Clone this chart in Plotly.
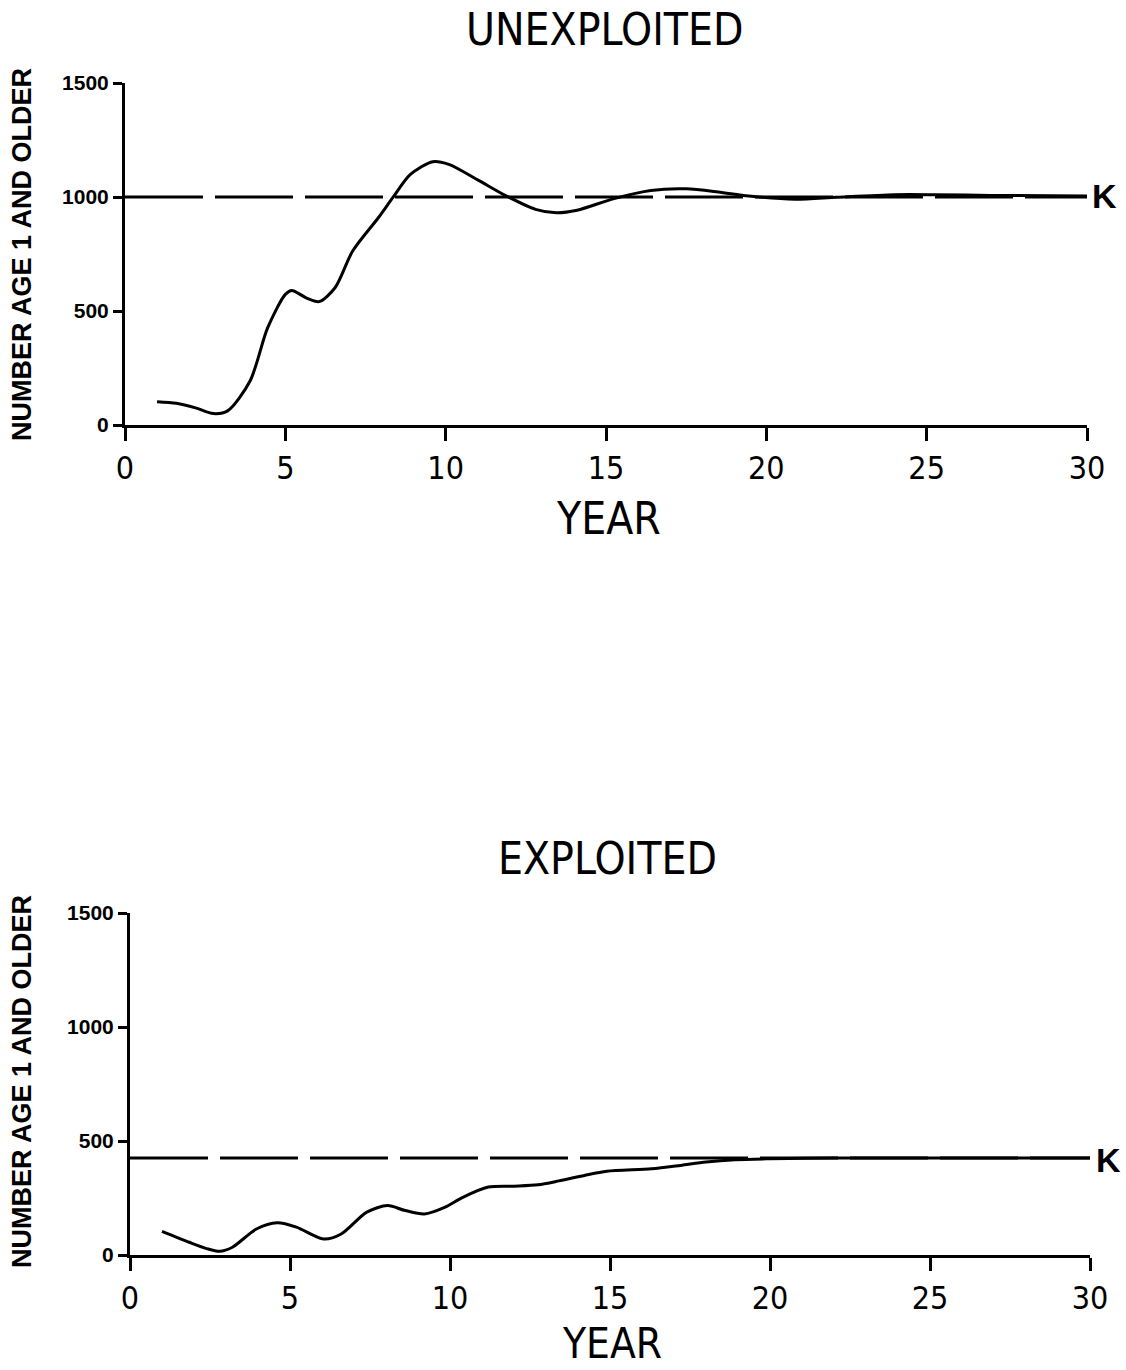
import plotly.graph_objects as go

# ---- data ----
years_unexploited = [1.0, 1.6, 2.2, 2.75, 3.2, 3.9, 4.45, 5.0, 5.2, 5.65, 6.05, 6.55, 7.1, 7.9,
                     8.35, 8.9, 9.6, 10.1, 11.0, 11.9, 12.8, 13.45, 14.1, 15.25, 16.4, 17.5,
                     18.5, 19.45, 20.9, 22.2, 24.0, 25.2, 27.0, 30.0]
number_unexploited = [102, 95, 75, 50, 62, 193, 427, 573, 590, 558, 541, 602, 763, 909,
                      997, 1099, 1155, 1143, 1075, 1004, 946, 931, 942, 993, 1029, 1036,
                      1022, 1004, 990, 999, 1010, 1010, 1007, 1004]

years_exploited = [1.0, 1.85, 2.4, 2.8, 3.2, 3.95, 4.6, 5.2, 6.05, 6.6, 7.4, 8.05, 8.6, 9.2,
                   9.85, 10.4, 11.2, 12.0, 12.75, 13.4, 14.2, 14.9, 16.3, 17.2, 18.0, 18.9,
                   20.0, 22.0, 25.0, 30.0]
number_exploited = [104, 56, 28, 16, 34, 114, 141, 122, 70, 92, 188, 217, 195, 180,
                    210, 253, 298, 302, 308, 325, 349, 367, 378, 393, 408, 418,
                    422, 425, 425, 425]

K_unexploited = 1000
K_exploited = 425
k_years = [0, 30]

x_ticks = [0, 5, 10, 15, 20, 25, 30]
y_ticks = [0, 500, 1000, 1500]
panel_titles = ["UNEXPLOITED", "EXPLOITED"]
x_title = "YEAR"
y_title = "NUMBER AGE 1 AND OLDER"
k_label = "K"

W, H = 1126, 1370
NARROW = "Liberation Sans Narrow, DejaVu Sans Condensed, Arial Narrow, sans-serif"
BOLD = "Liberation Sans, Arial, DejaVu Sans, sans-serif"

fig = go.Figure()

line_style = dict(color="black", width=3, shape="spline", smoothing=0.8)
dash_style = dict(color="black", width=3, dash="78px,12px")

fig.add_trace(go.Scatter(x=k_years, y=[K_unexploited] * 2, mode="lines", line=dash_style,
                         xaxis="x", yaxis="y", showlegend=False, hoverinfo="skip"))
fig.add_trace(go.Scatter(x=years_unexploited, y=number_unexploited, mode="lines",
                         line=line_style, xaxis="x", yaxis="y", showlegend=False))
fig.add_trace(go.Scatter(x=k_years, y=[K_exploited] * 2, mode="lines", line=dash_style,
                         xaxis="x2", yaxis="y2", showlegend=False, hoverinfo="skip"))
fig.add_trace(go.Scatter(x=years_exploited, y=number_exploited, mode="lines",
                         line=line_style, xaxis="x2", yaxis="y2", showlegend=False))


def xax(domain, anchor):
    return dict(domain=domain, anchor=anchor, range=[0, 30], tickvals=x_ticks,
                automargin=False, showgrid=False, zeroline=False, showline=True,
                linecolor="black", linewidth=3, ticks="outside", ticklen=13, tickwidth=3,
                tickcolor="black", tickfont=dict(family=NARROW, size=32, color="black"))


def yax(domain, anchor):
    return dict(domain=domain, anchor=anchor, range=[0, 1500], tickvals=y_ticks,
                automargin=False, showgrid=False, zeroline=False, showline=True,
                linecolor="black", linewidth=3, ticks="outside", ticklen=9, tickwidth=3,
                tickcolor="black",
                tickfont=dict(family=BOLD, size=21, color="black", weight="bold"))


fig.update_layout(
    template="none",
    width=W, height=H, margin=dict(l=0, r=0, t=0, b=0, autoexpand=False),
    paper_bgcolor="white", plot_bgcolor="white",
    xaxis=xax([125 / W, 1087 / W], "y"),
    yaxis=yax([1 - 425 / H, 1 - 83 / H], "x"),
    xaxis2=xax([130 / W, 1090 / W], "y2"),
    yaxis2=yax([1 - 1255 / H, 1 - 913 / H], "x2"),
)


def ann(text, x, y, size, family, rot=0, bold=False):
    fig.add_annotation(text=f"<b>{text}</b>" if bold else text, x=x / W, y=1 - y / H,
                       xref="paper", yref="paper", showarrow=False, textangle=rot,
                       xanchor="center", yanchor="middle",
                       font=dict(family=family, size=size, color="black"))


ann(panel_titles[0], 605, 30, 44, NARROW)
ann(panel_titles[1], 607, 858, 44, NARROW)
ann(x_title, 608, 518, 44, NARROW)
ann(x_title, 612, 1343, 42, NARROW)
ann(y_title, 22, 255, 27, BOLD, rot=-90, bold=True)
ann(y_title, 22, 1082, 27, BOLD, rot=-90, bold=True)
ann(k_label, 1104, 196, 34, BOLD, bold=True)
ann(k_label, 1108, 1160, 34, BOLD, bold=True)

fig.write_html("out.html")
